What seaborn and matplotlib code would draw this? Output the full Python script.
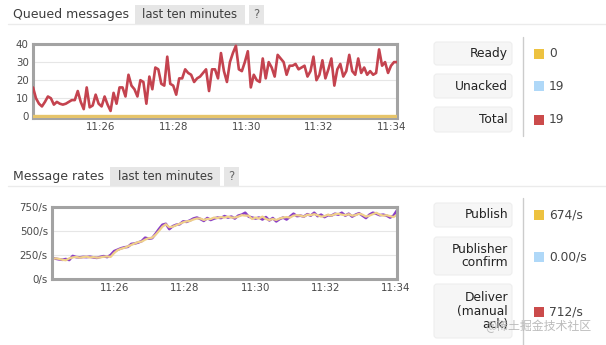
import numpy as np
import pandas as pd
import matplotlib
matplotlib.use("Agg")
import matplotlib.pyplot as plt
from matplotlib.patches import FancyBboxPatch, Rectangle
import seaborn as sns

sns.set_style("white")
plt.rcParams['font.family'] = ['DejaVu Sans', 'Noto Sans CJK SC']

# ---------------- data ----------------
tick_minutes = [26, 28, 30, 32, 34]
tick_labels = ["11:26", "11:28", "11:30", "11:32", "11:34"]

queued_total = [16, 10, 7, 5.5, 8, 11, 10, 6.5, 8, 7, 6.5, 7, 8, 9, 9, 14, 8, 4, 16, 5,
                6, 12, 7, 5.5, 11, 6.5, 3, 13, 7, 16, 16, 11, 23, 17, 15, 11, 20, 19, 7, 22,
                15, 27, 26, 18, 17, 33, 18, 17, 12, 21, 21, 26, 24, 23, 19, 21, 22, 24, 26, 14,
                26, 26, 21, 35, 25, 19, 30, 35, 39, 26, 25, 30, 36, 16, 23, 20, 19, 32, 21, 30,
                27, 22, 34, 32, 30, 23, 28, 28, 29, 26, 27, 28, 22, 25, 33, 20, 23, 31, 21, 26,
                32, 17, 26, 29, 22, 25, 34, 25, 23, 32, 24, 27, 23, 25, 23, 24, 37, 28, 30, 24,
                28, 30, 30]
queued_ready = [0, 0]

deliver_rate = [215, 212, 205, 200, 208, 198, 240, 228, 225, 230, 228, 232, 225, 220, 230, 238, 228, 250,
                290, 305, 320, 330, 335, 365, 370, 380, 395, 430, 420, 425, 470, 520, 565, 575, 520,
                550, 565, 570, 600, 595, 610, 630, 640, 625, 605, 635, 615, 630, 640, 635, 655, 640,
                650, 630, 660, 670, 690, 650, 640, 630, 640, 620, 645, 610, 635, 600, 625, 640, 620,
                650, 680, 655, 660, 650, 675, 660, 690, 655, 670, 645, 665, 660, 680, 670, 690, 660,
                680, 650, 670, 685, 660, 635, 670, 690, 680, 665, 670, 660, 640, 660, 715]
publish_rate = [205, 215, 210, 200, 195, 215, 225, 230, 222, 228, 232, 225, 228, 222, 225, 232, 235, 230,
                270, 300, 315, 325, 340, 355, 370, 385, 390, 410, 425, 430, 460, 500, 545, 570, 540,
                545, 560, 575, 590, 600, 605, 620, 630, 630, 615, 625, 625, 640, 635, 645, 640, 650,
                640, 640, 650, 665, 660, 660, 625, 640, 630, 650, 625, 615, 625, 615, 630, 640, 645,
                640, 660, 665, 660, 650, 670, 665, 675, 665, 650, 655, 670, 660, 675, 680, 670, 665,
                675, 660, 665, 680, 670, 650, 660, 675, 690, 670, 660, 665, 655, 645, 670]

top_ylim = (-0.9, 40)
top_yticks = [0, 10, 20, 30, 40]
bot_ylim = (0, 750)
bot_yticks = [0, 250, 500, 750]
bot_yticklabels = ["0/s", "250/s", "500/s", "750/s"]

queue_legend = [("Ready", "0", "#edc240"), ("Unacked", "19", "#afd8f8"), ("Total", "19", "#cb4b4b")]
rate_legend = [("Publish", "674/s", "#edc240"),
               ("Publisher\nconfirm", "0.00/s", "#afd8f8"),
               ("Deliver\n(manual\nack)", "712/s", "#cb4b4b")]

# ---------------- figure ----------------
W, H = 606, 345
fig = plt.figure(figsize=(W / 100, H / 100), dpi=100)
fig.patch.set_facecolor("white")

# overlay in pixel coordinates for headers / legends
ov = fig.add_axes([0, 0, 1, 1])
ov.set_xlim(0, W)
ov.set_ylim(H, 0)
ov.axis("off")
ov.patch.set_alpha(0)


def ax_rect(l, r, t, b):
    return [l / W, 1 - b / H, (r - l) / W, (b - t) / H]


ax1 = fig.add_axes(ax_rect(33, 397, 44, 118))
ax2 = fig.add_axes(ax_rect(52, 397, 207, 279))

t0, t1 = 24.13, 34.15
df_q = pd.DataFrame({"t": np.linspace(t0, t1, len(queued_total)), "v": queued_total})
df_r = pd.DataFrame({"t": [t0, t1], "v": queued_ready})
sns.lineplot(data=df_r, x="t", y="v", ax=ax1, color="#e6c46a", linewidth=2.4, zorder=3)
sns.lineplot(data=df_q, x="t", y="v", ax=ax1, color="#c4434f", linewidth=1.9, zorder=4)

b0, b1 = 24.2, 34.05
df_p = pd.DataFrame({"t": np.linspace(b0, b1, len(publish_rate)), "v": publish_rate})
df_d = pd.DataFrame({"t": np.linspace(b0, b1, len(deliver_rate)), "v": deliver_rate})
sns.lineplot(data=df_d, x="t", y="v", ax=ax2, color="#8a3fc6", linewidth=1.9)
sns.lineplot(data=df_p, x="t", y="v", ax=ax2, color="#f0d08a", linewidth=1.6)

for ax, (lo, hi), yt, ytl in [(ax1, (t0, t1), top_yticks, [str(v) for v in top_yticks]),
                              (ax2, (b0, b1), bot_yticks, bot_yticklabels)]:
    ax.set_xlim(lo, hi)
    ax.set_xticks(tick_minutes)
    ax.set_xticklabels(tick_labels)
    ax.set_yticks(yt)
    ax.set_yticklabels(ytl)
    ax.set_xlabel("")
    ax.set_ylabel("")
    ax.grid(axis="y", color="#e6e6e6", linewidth=0.8)
    ax.grid(axis="x", visible=False)
    ax.set_axisbelow(True)
    for s in ax.spines.values():
        s.set_color("#a3a3a3")
        s.set_linewidth(2.2)
    ax.tick_params(axis="both", length=0, labelsize=7.4, colors="#4a4a4a", pad=3)
    for lab in ax.get_xticklabels():
        lab.set_ha("center")
ax1.set_ylim(*top_ylim)
ax2.set_ylim(*bot_ylim)

# ---------------- headers ----------------
hdr_col = "#3d3d3d"


def header(y, title, title_x, box_l, box_r, q_l, q_r):
    ov.plot([8, W], [y + 9.5, y + 9.5], color="#ebebeb", linewidth=1)
    ov.text(title_x, y, title, fontsize=9, color=hdr_col, va="center", ha="left")
    ov.add_patch(Rectangle((box_l, y - 10), box_r - box_l, 19.5, facecolor="#e6e6e6", edgecolor="none"))
    ov.text((box_l + box_r) / 2, y, "last ten minutes", fontsize=8.4, color=hdr_col, va="center", ha="center")
    ov.add_patch(Rectangle((q_l, y - 10), q_r - q_l, 19.5, facecolor="#e6e6e6", edgecolor="none"))
    ov.text((q_l + q_r) / 2, y, "?", fontsize=8.4, color="#666666", va="center", ha="center")


header(14.5, "Queued messages", 13, 135, 245, 249, 264)
header(176.5, "Message rates", 13, 110, 220, 224, 239)

# ---------------- legends ----------------


def legend_block(entries, boxes, sep_top, sep_bot):
    ov.plot([523, 523], [sep_top, sep_bot], color="#cccccc", linewidth=1)
    for (label, val, col), (bt, bb, sw_y) in zip(entries, boxes):
        ov.add_patch(FancyBboxPatch((434, bt), 78, bb - bt, boxstyle="round,pad=0,rounding_size=3",
                                    facecolor="#f6f6f6", edgecolor="#eeeeee", linewidth=0.8))
        ov.text(508, (bt + bb) / 2, label, fontsize=8.8, color="#222222", ha="right", va="center",
                linespacing=1.05)
        ov.add_patch(Rectangle((534, sw_y - 5), 10, 10, facecolor=col, edgecolor="none"))
        ov.text(549, sw_y, val, fontsize=8.8, color="#444444", ha="left", va="center")


legend_block(queue_legend, [(42, 65, 53.5), (74, 98, 86), (107, 132, 119.5)], 37, 136)
legend_block(rate_legend, [(203, 227, 215), (237, 275, 257), (284, 338, 312)], 198, 345)

ov.text(538, 326, "@稀土掘金技术社区", fontsize=8.6, color="#b0b0b0", ha="center", va="center",
        family=["Noto Sans CJK SC", "DejaVu Sans"], alpha=0.85)

fig.savefig("out.png", dpi=100, facecolor="white")
